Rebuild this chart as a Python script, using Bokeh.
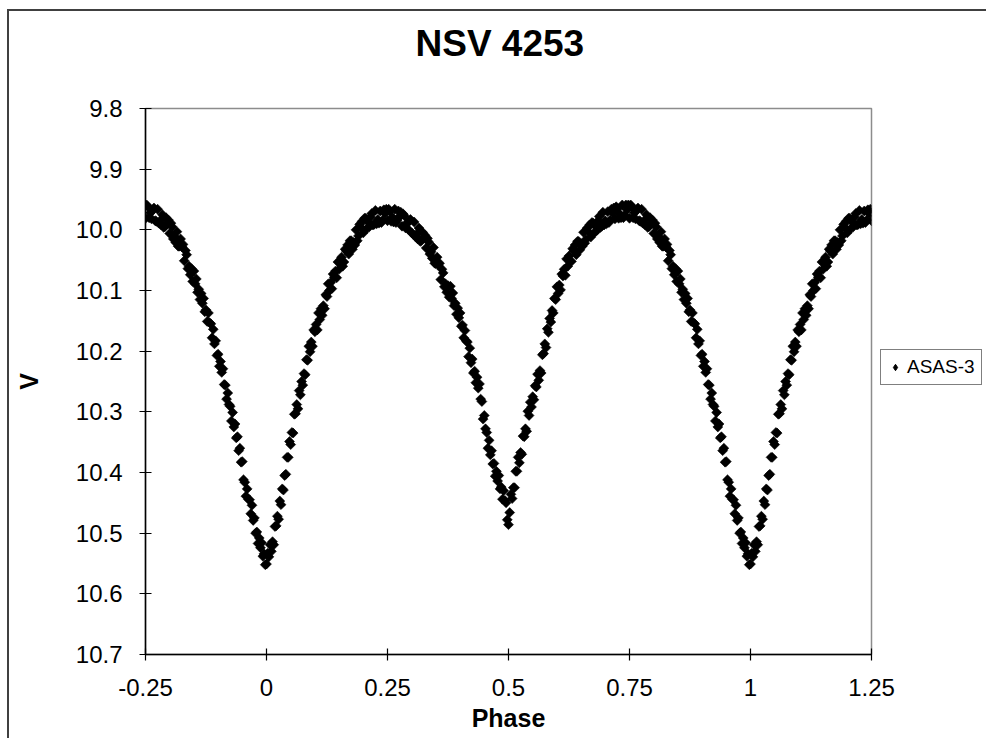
import math
from bokeh.plotting import figure
from bokeh.models import Range1d, FixedTicker, Legend, LegendItem, ColumnDataSource, Title
from bokeh.embed import file_html
from bokeh.resources import INLINE
try:
    from bokeh.models import GlobalInlineStyleSheet
except ImportError:
    GlobalInlineStyleSheet = None

# ---------------- data ----------------
chart_title = "NSV 4253"
series_name = "ASAS-3"
x_label = "Phase"
y_label = "V"

x_ticks = [-0.25, 0, 0.25, 0.5, 0.75, 1, 1.25]
x_tick_labels = ["-0.25", "0", "0.25", "0.5", "0.75", "1", "1.25"]
y_ticks = [9.8, 9.9, 10.0, 10.1, 10.2, 10.3, 10.4, 10.5, 10.6, 10.7]
y_tick_labels = ["9.8", "9.9", "10.0", "10.1", "10.2", "10.3", "10.4", "10.5", "10.6", "10.7"]

# primary eclipse egress (phase 0.000 - 0.150)
phase_a = [0.0, 0.0025, 0.005, 0.0075, 0.01, 0.0125, 0.015, 0.0175, 0.02, 0.0225,
           0.025, 0.0275, 0.03, 0.0325, 0.035, 0.0375, 0.04, 0.0425, 0.045, 0.0475,
           0.05, 0.0525, 0.055, 0.0575, 0.06, 0.0625, 0.065, 0.0675, 0.07, 0.0725,
           0.075, 0.0775, 0.08, 0.0825, 0.085, 0.0875, 0.09, 0.0925, 0.095, 0.0975,
           0.1, 0.1025, 0.105, 0.1075, 0.11, 0.1125, 0.115, 0.1175, 0.12, 0.1225,
           0.125, 0.1275, 0.13, 0.1325, 0.135, 0.1375, 0.14, 0.1425, 0.145, 0.1475,
           0.15]
v_a = [10.551, 10.533, 10.539, 10.519, 10.530, 10.514, 10.519, 10.489, 10.488, 10.472,
       10.477, 10.447, 10.453, 10.427, 10.429, 10.405, 10.403, 10.375, 10.375, 10.349,
       10.354, 10.334, 10.335, 10.304, 10.303, 10.288, 10.295, 10.265, 10.272, 10.250,
       10.256, 10.237, 10.239, 10.214, 10.215, 10.192, 10.201, 10.185, 10.192, 10.165,
       10.168, 10.156, 10.165, 10.137, 10.148, 10.130, 10.141, 10.125, 10.130, 10.107,
       10.110, 10.089, 10.100, 10.087, 10.097, 10.073, 10.078, 10.068, 10.079, 10.053,
       10.065]

# first maximum (phase 0.155 - 0.375)
phase_b = [0.155, 0.16, 0.165, 0.17, 0.175, 0.18, 0.185, 0.19, 0.195, 0.2,
           0.205, 0.21, 0.215, 0.22, 0.225, 0.23, 0.235, 0.24, 0.245, 0.25,
           0.255, 0.26, 0.265, 0.27, 0.275, 0.28, 0.285, 0.29, 0.295, 0.3,
           0.305, 0.31, 0.315, 0.32, 0.325, 0.33, 0.335, 0.34, 0.345, 0.35,
           0.355, 0.36, 0.365, 0.37, 0.375]
v_b = [10.045, 10.053, 10.035, 10.040, 10.018, 10.021, 10.000, 10.010, 9.996, 10.005,
       9.981, 9.987, 9.979, 9.992, 9.968, 9.983, 9.969, 9.984, 9.973, 9.985,
       9.969, 9.979, 9.966, 9.984, 9.978, 9.994, 9.977, 9.989, 9.986, 10.005,
       9.987, 10.007, 9.997, 10.018, 10.013, 10.030, 10.020, 10.036, 10.029, 10.056,
       10.058, 10.082, 10.071, 10.089, 10.092]
phase_b2 = [0.1575, 0.1625, 0.1675, 0.1725, 0.1775, 0.1825, 0.1875, 0.1925, 0.1975, 0.2025,
            0.2075, 0.2125, 0.2175, 0.2225, 0.2275, 0.2325, 0.2375, 0.2425, 0.2475, 0.2525,
            0.2575, 0.2625, 0.2675, 0.2725, 0.2775, 0.2825, 0.2875, 0.2925, 0.2975, 0.3025,
            0.3075, 0.3125, 0.3175, 0.3225, 0.3275, 0.3325, 0.3375, 0.3425, 0.3475, 0.3525,
            0.3575, 0.3625, 0.3675, 0.3725]
v_b2 = [10.060, 10.032, 10.025, 10.018, 10.032, 10.025, 10.018, 9.991, 9.986, 9.981,
        9.998, 9.995, 9.973, 9.991, 9.990, 9.989, 9.988, 9.967, 9.966, 9.966,
        9.986, 9.987, 9.988, 9.969, 9.971, 9.974, 9.997, 9.999, 9.983, 10.007,
        10.011, 10.015, 10.019, 10.004, 10.009, 10.014, 10.040, 10.047, 10.055, 10.045,
        10.055, 10.065, 10.094, 10.103]

# secondary eclipse (phase 0.3775 - 0.625)
phase_c = [0.3775, 0.38, 0.3825, 0.385, 0.3875, 0.39, 0.3925, 0.395, 0.3975, 0.4,
           0.4025, 0.405, 0.4075, 0.41, 0.4125, 0.415, 0.4175, 0.42, 0.4225, 0.425,
           0.4275, 0.43, 0.4325, 0.435, 0.4375, 0.44, 0.4425, 0.445, 0.4475, 0.45,
           0.4525, 0.455, 0.4575, 0.46, 0.4625, 0.465, 0.4675, 0.47, 0.4725, 0.475,
           0.4775, 0.48, 0.4825, 0.485, 0.4875, 0.49, 0.4925, 0.495, 0.4975, 0.5,
           0.5025, 0.505, 0.5075, 0.51, 0.5125, 0.515, 0.5175, 0.52, 0.5225, 0.525,
           0.5275, 0.53, 0.5325, 0.535, 0.5375, 0.54, 0.5425, 0.545, 0.5475, 0.55,
           0.5525, 0.555, 0.5575, 0.56, 0.5625, 0.565, 0.5675, 0.57, 0.5725, 0.575,
           0.5775, 0.58, 0.5825, 0.585, 0.5875, 0.59, 0.5925, 0.595, 0.5975, 0.6,
           0.6025, 0.605, 0.6075, 0.61, 0.6125, 0.615, 0.6175, 0.62, 0.6225, 0.625]
v_c = [10.111, 10.093, 10.113, 10.104, 10.125, 10.121, 10.139, 10.129, 10.145, 10.137,
       10.159, 10.157, 10.178, 10.166, 10.183, 10.185, 10.209, 10.195, 10.219, 10.213,
       10.236, 10.233, 10.252, 10.243, 10.261, 10.254, 10.279, 10.283, 10.312, 10.306,
       10.328, 10.334, 10.360, 10.347, 10.371, 10.364, 10.386, 10.385, 10.406, 10.398,
       10.414, 10.405, 10.427, 10.424, 10.444, 10.430, 10.446, 10.450, 10.478, 10.486,
       10.466, 10.436, 10.443, 10.425, 10.425, 10.398, 10.398, 10.375, 10.384, 10.367,
       10.370, 10.340, 10.341, 10.328, 10.332, 10.299, 10.306, 10.284, 10.292, 10.275,
       10.280, 10.257, 10.259, 10.238, 10.248, 10.232, 10.236, 10.206, 10.204, 10.188,
       10.194, 10.163, 10.169, 10.146, 10.152, 10.133, 10.137, 10.113, 10.115, 10.094,
       10.105, 10.091, 10.099, 10.073, 10.076, 10.065, 10.075, 10.048, 10.060, 10.043]

# second maximum (phase 0.630 - 0.845)
phase_d = [0.63, 0.635, 0.64, 0.645, 0.65, 0.655, 0.66, 0.665, 0.67, 0.675,
           0.68, 0.685, 0.69, 0.695, 0.7, 0.705, 0.71, 0.715, 0.72, 0.725,
           0.73, 0.735, 0.74, 0.745, 0.75, 0.755, 0.76, 0.765, 0.77, 0.775,
           0.78, 0.785, 0.79, 0.795, 0.8, 0.805, 0.81, 0.815, 0.82, 0.825,
           0.83, 0.835, 0.84, 0.845]
v_d = [10.052, 10.035, 10.041, 10.019, 10.023, 10.004, 10.016, 10.003, 10.012, 9.989,
       9.994, 9.985, 9.996, 9.971, 9.985, 9.970, 9.984, 9.972, 9.982, 9.965,
       9.974, 9.959, 9.976, 9.967, 9.981, 9.962, 9.972, 9.968, 9.985, 9.966,
       9.985, 9.975, 9.995, 9.989, 10.006, 9.995, 10.011, 10.003, 10.027, 10.028,
       10.051, 10.041, 10.060, 10.064]
phase_d2 = [0.6325, 0.6375, 0.6425, 0.6475, 0.6525, 0.6575, 0.6625, 0.6675, 0.6725, 0.6775,
            0.6825, 0.6875, 0.6925, 0.6975, 0.7025, 0.7075, 0.7125, 0.7175, 0.7225, 0.7275,
            0.7325, 0.7375, 0.7425, 0.7475, 0.7525, 0.7575, 0.7625, 0.7675, 0.7725, 0.7775,
            0.7825, 0.7875, 0.7925, 0.7975, 0.8025, 0.8075, 0.8125, 0.8175, 0.8225, 0.8275,
            0.8325, 0.8375, 0.8425]
v_d2 = [10.031, 10.025, 10.019, 10.033, 10.027, 10.022, 9.997, 9.992, 9.988, 10.005,
        10.001, 9.978, 9.994, 9.992, 9.990, 9.988, 9.966, 9.964, 9.962, 9.981,
        9.980, 9.980, 9.959, 9.959, 9.959, 9.980, 9.982, 9.964, 9.986, 9.989,
        9.992, 9.996, 9.980, 9.984, 9.989, 10.015, 10.021, 10.027, 10.015, 10.024,
        10.034, 10.064, 10.074]

# primary eclipse ingress (phase 0.8475 - 0.9975)
phase_e = [0.8475, 0.85, 0.8525, 0.855, 0.8575, 0.86, 0.8625, 0.865, 0.8675, 0.87,
           0.8725, 0.875, 0.8775, 0.88, 0.8825, 0.885, 0.8875, 0.89, 0.8925, 0.895,
           0.8975, 0.9, 0.9025, 0.905, 0.9075, 0.91, 0.9125, 0.915, 0.9175, 0.92,
           0.9225, 0.925, 0.9275, 0.93, 0.9325, 0.935, 0.9375, 0.94, 0.9425, 0.945,
           0.9475, 0.95, 0.9525, 0.955, 0.9575, 0.96, 0.9625, 0.965, 0.9675, 0.97,
           0.9725, 0.975, 0.9775, 0.98, 0.9825, 0.985, 0.9875, 0.99, 0.9925, 0.995,
           0.9975]
v_e = [10.085, 10.068, 10.089, 10.081, 10.103, 10.098, 10.115, 10.105, 10.121, 10.113,
       10.135, 10.132, 10.151, 10.137, 10.153, 10.155, 10.178, 10.164, 10.188, 10.183,
       10.207, 10.205, 10.225, 10.217, 10.235, 10.229, 10.255, 10.256, 10.279, 10.269,
       10.288, 10.291, 10.315, 10.301, 10.325, 10.320, 10.343, 10.341, 10.364, 10.360,
       10.383, 10.382, 10.412, 10.416, 10.439, 10.427, 10.444, 10.445, 10.468, 10.454,
       10.479, 10.475, 10.500, 10.498, 10.517, 10.508, 10.524, 10.516, 10.538, 10.534,
       10.552]

# ---------------- assemble (phase-folded plot shows -0.25 .. 1.25) ----------------
phase = phase_a + phase_b + phase_b2 + phase_c + phase_d + phase_d2 + phase_e
mag = v_a + v_b + v_b2 + v_c + v_d + v_d2 + v_e
xs, ys = [], []
for ph, m in zip(phase, mag):
    xs.append(ph)
    ys.append(m)
    if ph >= 0.75:
        xs.append(ph - 1.0)
        ys.append(m)
    if ph <= 0.25:
        xs.append(ph + 1.0)
        ys.append(m)
src = ColumnDataSource(dict(x=xs, y=ys))
# the legend key re-uses the first observation (drawn on top of itself)
key_src = ColumnDataSource(dict(x=xs[:1], y=ys[:1]))

FONT = "Liberation Sans"

p = figure(
    frame_width=726, frame_height=546,
    min_border_left=136, min_border_right=100, min_border_top=97, min_border_bottom=84,
    x_range=Range1d(-0.25, 1.25), y_range=Range1d(10.7, 9.8),
    output_backend="svg", toolbar_location=None,
    background_fill_color="white", border_fill_color="white",
)
p.styles = {"position": "relative", "left": "7px", "top": "9px",
            "border-left": "2px solid #404040", "border-top": "2px solid #404040",
            "border-right": "none", "border-bottom": "none",
            "vertical-align": "top"}
if GlobalInlineStyleSheet is not None:
    p.stylesheets = [GlobalInlineStyleSheet(css="html, body { overflow: hidden !important; }")]

# spacer next to the frame, then the real title above it
p.add_layout(Title(text=" ", text_font_size="1px", standoff=38), "above")
p.add_layout(Title(text=chart_title, align="left", text_font=FONT, text_font_size="37px",
                   text_font_style="bold", text_color="black", standoff=8, offset=270), "above")

r = p.scatter("x", "y", source=src, marker="square", size=7, angle=math.pi / 4,
              fill_color="black", line_color="black", line_width=0.6)
r_key = p.scatter("x", "y", source=key_src, marker="diamond", size=9,
                  fill_color="black", line_color="black")

p.xgrid.visible = False
p.ygrid.visible = False
p.outline_line_color = "#8c8c8c"
p.outline_line_width = 1.5

for ax in (p.xaxis[0], p.yaxis[0]):
    ax.axis_line_color = "black"
    ax.axis_line_width = 1.5
    ax.major_tick_line_color = "black"
    ax.major_tick_line_width = 1.2
    ax.major_tick_in = 6
    ax.major_tick_out = 6
    ax.minor_tick_line_color = None
    ax.major_label_text_font = FONT
    ax.major_label_text_font_size = "24px"
    ax.major_label_text_color = "black"
    ax.axis_label_text_font = FONT
    ax.axis_label_text_font_size = "25px"
    ax.axis_label_text_font_style = "bold"
    ax.axis_label_text_color = "black"

p.xaxis.ticker = FixedTicker(ticks=x_ticks)
p.xaxis.major_label_overrides = {t: l for t, l in zip(x_ticks, x_tick_labels)}
p.xaxis.axis_label = x_label
p.xaxis.major_label_standoff = 18
p.xaxis.axis_label_standoff = 5

p.yaxis.ticker = FixedTicker(ticks=y_ticks)
p.yaxis.major_label_overrides = {t: l for t, l in zip(y_ticks, y_tick_labels)}
p.yaxis.axis_label = y_label
p.yaxis.major_label_standoff = 17
p.yaxis.axis_label_standoff = 30

legend = Legend(items=[LegendItem(label=series_name, renderers=[r_key])], location=(9, 269))
legend.label_text_font = FONT
legend.label_text_font_size = "19px"
legend.label_text_color = "black"
legend.border_line_color = "black"
legend.border_line_width = 1
legend.background_fill_color = "white"
legend.background_fill_alpha = 1
legend.padding = 6
legend.margin = 0
legend.glyph_width = 16
legend.glyph_height = 20
legend.label_standoff = 4
legend.label_width = 64
legend.spacing = 0
p.add_layout(legend, "right")

open("out.html", "w").write(file_html(p, INLINE))
